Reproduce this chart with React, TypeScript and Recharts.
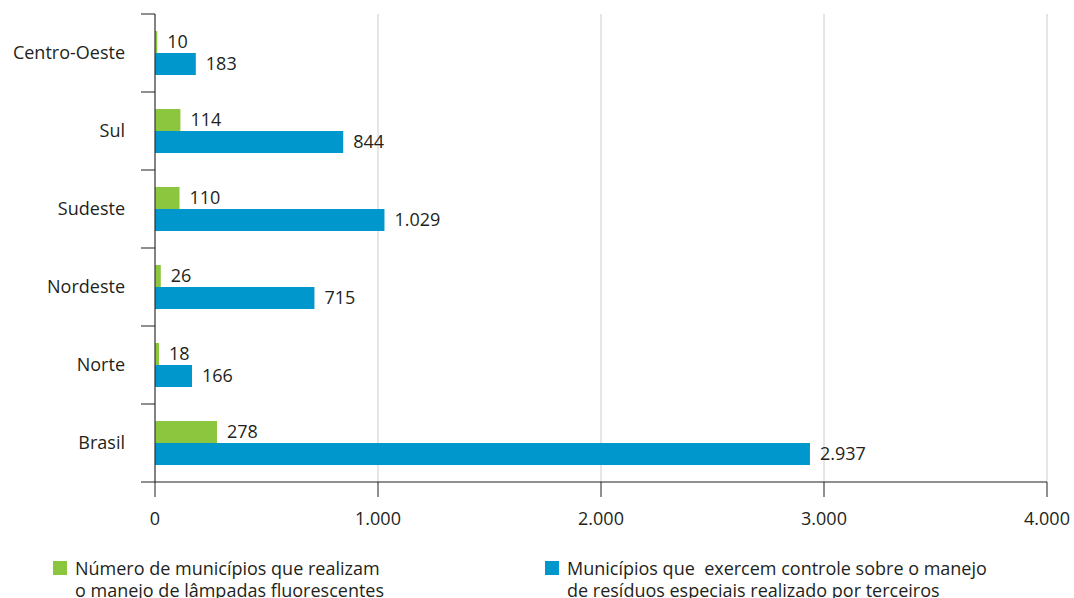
import React from "react";
import {
  BarChart,
  Bar,
  XAxis,
  YAxis,
  CartesianGrid,
  LabelList,
} from "recharts";

// regions, top to bottom as drawn
const regions = ["Centro-Oeste", "Sul", "Sudeste", "Nordeste", "Norte", "Brasil"];
const lampadas = [10, 114, 110, 26, 18, 278];
const terceiros = [183, 844, 1029, 715, 166, 2937];
const seriesNames = [
  ["Número de municípios que realizam", "o manejo de lâmpadas fluorescentes"],
  ["Municípios que  exercem controle sobre o manejo", "de resíduos especiais realizado por terceiros"],
];
const xTicks = [0, 1000, 2000, 3000, 4000];

const GREEN = "#8cc63f";
const BLUE = "#0097cd";
const INK = "#231f20";

const W = 1074;
const H = 598;
const MARGIN = { top: 14, right: 27, left: 0, bottom: 76 };
const X_AXIS_H = 40;
const LABEL_GAP = 30; // label end -> axis line
const EDGE_TICK = 14;
// height of one category band, from the plot height
const BAND = (H - MARGIN.top - MARGIN.bottom - X_AXIS_H) / regions.length;

const fmt = (v: number) => v.toLocaleString("pt-BR");

const data = regions.map((r, i) => ({
  region: r,
  lampadas: lampadas[i],
  terceiros: terceiros[i],
}));

// category label + short ticks on the band boundaries
function RegionTick(props: any) {
  const { x, y, payload, index } = props;
  const ax = x + LABEL_GAP;
  const last = index === regions.length - 1;
  return (
    <g>
      <text x={x} y={y} dy="0.35em" textAnchor="end" fill={INK} fontSize={18}>
        {payload.value}
      </text>
      <line x1={ax - EDGE_TICK} x2={ax} y1={y - BAND / 2} y2={y - BAND / 2} stroke={INK} />
      {last && (
        <line x1={ax - EDGE_TICK} x2={ax} y1={y + BAND / 2} y2={y + BAND / 2} stroke={INK} />
      )}
    </g>
  );
}

function LegendBox() {
  const colors = [GREEN, BLUE];
  const lefts = [53, 545];
  return (
    <>
      {seriesNames.map((lines, i) => (
        <div
          key={i}
          style={{
            position: "absolute",
            left: lefts[i],
            top: 557,
            display: "flex",
            alignItems: "flex-start",
            fontSize: 18,
            lineHeight: "22px",
            color: INK,
          }}
        >
          <span
            style={{
              width: 14,
              height: 14,
              background: colors[i],
              marginTop: 4,
              marginRight: 8,
              flex: "none",
            }}
          />
          <div style={{ whiteSpace: "pre" }}>
            {lines[0]}
            <br />
            {lines[1]}
          </div>
        </div>
      ))}
    </>
  );
}

export default function App() {
  return (
    <div
      style={{
        position: "absolute",
        left: 0,
        top: 0,
        width: W,
        height: H,
        background: "#fff",
        fontFamily: "'Open Sans', sans-serif",
        overflow: "hidden",
      }}
    >
      <BarChart
        width={W}
        height={H}
        data={data}
        layout="vertical"
        margin={MARGIN}
        barGap={0}
        barSize={22}
      >
        <CartesianGrid horizontal={false} stroke="#cccccc" />
        <XAxis
          type="number"
          domain={[0, 4000]}
          ticks={xTicks}
          tickFormatter={fmt}
          height={X_AXIS_H}
          tickSize={15}
          tickMargin={15}
          axisLine={{ stroke: INK }}
          tickLine={{ stroke: INK }}
          tick={{ fill: INK, fontSize: 18 }}
        />
        <YAxis
          type="category"
          dataKey="region"
          width={155}
          tickSize={0}
          tickMargin={LABEL_GAP}
          tickLine={false}
          axisLine={{ stroke: INK }}
          tick={<RegionTick />}
        />
        <Bar dataKey="lampadas" fill={GREEN} isAnimationActive={false}>
          <LabelList
            dataKey="lampadas"
            position="right"
            offset={10}
            formatter={(v: number) => fmt(v)}
            style={{ fill: INK, fontSize: 18 }}
          />
        </Bar>
        <Bar dataKey="terceiros" fill={BLUE} isAnimationActive={false}>
          <LabelList
            dataKey="terceiros"
            position="right"
            offset={10}
            formatter={(v: number) => fmt(v)}
            style={{ fill: INK, fontSize: 18 }}
          />
        </Bar>
      </BarChart>
      <LegendBox />
    </div>
  );
}
